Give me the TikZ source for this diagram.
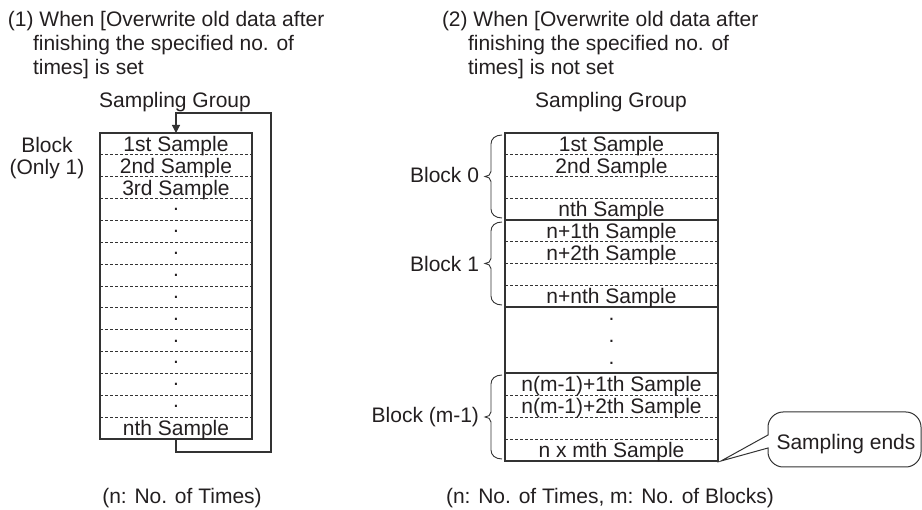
\documentclass[tikz,border=0pt]{standalone}
\usepackage{fontspec}
\setmainfont{Liberation Sans}
\usetikzlibrary{arrows.meta}
\definecolor{ink}{HTML}{231F20}
\definecolor{linec}{HTML}{333333}
\newcommand\blockbrace[2]{%
  \draw[bracestyle] (502,#1) .. controls (495,#1) and (491,{#1+4}) .. (491,{#1+9})
    -- (491,{(#1+#2)/2-5}) .. controls (491,{(#1+#2)/2-2}) and (488,{(#1+#2)/2}) .. (485,{(#1+#2)/2})
    .. controls (488,{(#1+#2)/2}) and (491,{(#1+#2)/2+2}) .. (491,{(#1+#2)/2+5})
    -- (491,{#2-9}) .. controls (491,{#2-4}) and (495,#2) .. (502,#2);}
\begin{document}
\begin{tikzpicture}[x=1pt,y=-1pt,
  every node/.style={inner sep=0pt, outer sep=0pt, text=ink, font=\fontsize{21}{24}\selectfont},
  boxstyle/.style={draw=linec, line width=1.2pt},
  dashln/.style={draw=linec, line width=0.8pt, dash pattern=on 3pt off 2pt},
  solidln/.style={draw=linec, line width=1.3pt},
  bracestyle/.style={draw=linec, line width=0.9pt},
  txt/.style={anchor=base},
  ttl/.style={anchor=base west}]
\useasboundingbox (0,0) rectangle (922,510);

% ---------- titles ----------
\node[ttl] (t1a) at (8,27) {(1) When [Overwrite old data after};
\node[ttl] (t1b) at (33,51) {finishing the specified no. of};
\node[ttl] (t1c) at (33,75) {times] is set};
\node[ttl] (t2a) at (442,27) {(2) When [Overwrite old data after};
\node[ttl] (t2b) at (468,51) {finishing the specified no. of};
\node[ttl] (t2c) at (468,75) {times] is not set};

\node[txt] (sg1) at (175,108) {Sampling Group};
\node[txt] (sg2) at (611,108) {Sampling Group};

% ---------- left box ----------
\node[boxstyle, minimum width=152pt, minimum height=306pt] (lbox) at (176,286) {};
\foreach \k in {1,...,13}
  \draw[dashln] (100,{133+\k*21.857}) -- (252,{133+\k*21.857});
\node[txt] (l1) at (176,152) {1st Sample};
\node[txt] (l2) at (176,173.7) {2nd Sample};
\node[txt] (l3) at (176,195.6) {3rd Sample};
\foreach \k in {3,...,12}
  \node[txt] (ld\k) at (176,{133+(\k+0.5)*21.857+1.5}) {.};
\node[txt] (ln) at (176,436) {nth Sample};

\node[txt] (blkA) at (47,153) {Block};
\node[txt] (blkB) at (47,175) {(Only 1)};

\coordinate (lpA) at (271,452);
\coordinate (lpB) at (271,113);
\draw[linec, line width=1.2pt, -{Triangle[width=8pt,length=8pt]}]
  (lbox.south) |- (lpA) -- (lpB) -| (lbox.north);

\node[txt] (nl) at (182,504) {(n: No. of Times)};

% ---------- right box ----------
\node[boxstyle, minimum width=213pt, minimum height=328pt] (rbox) at (611.5,297) {};
\foreach \y in {154.75,176.5,198.25,241.75,263.5,285.25,395,417,439}
  \draw[dashln] (505,\y) -- (718,\y);
\foreach \y in {220,307,373}
  \draw[solidln] (505,\y) -- (718,\y);

\node[txt] (r1) at (611.5,152) {1st Sample};
\node[txt] (r2) at (611.5,173.5) {2nd Sample};
\node[txt] (r3) at (611.5,217) {nth Sample};
\node[txt] (r4) at (611.5,239) {n+1th Sample};
\node[txt] (r5) at (611.5,260.5) {n+2th Sample};
\node[txt] (r6) at (611.5,304) {n+nth Sample};
\node[txt] (rd1) at (611.5,320.5) {.};
\node[txt] (rd2) at (611.5,342.5) {.};
\node[txt] (rd3) at (611.5,364.5) {.};
\node[txt] (r7) at (611.5,392) {n(m-1)+1th Sample};
\node[txt] (r8) at (611.5,414) {n(m-1)+2th Sample};
\node[txt] (r9) at (611.5,458) {n x mth Sample};

\blockbrace{135}{218}
\blockbrace{222}{305}
\blockbrace{375}{459}
\node[anchor=base east] (b0) at (479,183) {Block 0};
\node[anchor=base east] (b1) at (479,272) {Block 1};
\node[anchor=base east] (bm) at (479,423) {Block (m-1)};

\node[txt] (nr) at (610,504) {(n: No. of Times, m: No. of Blocks)};

% ---------- callout ----------
\node[txt] (ends) at (846,450) {Sampling ends};
\draw[linec, line width=1pt]
  (768,435) -- (768,427) .. controls (768,419) and (775,412) .. (783,412)
  -- (906,412) .. controls (914,412) and (921,419) .. (921,427)
  -- (921,452) .. controls (921,460) and (914,467) .. (906,467)
  -- (783,467) .. controls (775,467) and (768,460) .. (768,452)
  -- (768,448) -- ([xshift=3pt]rbox.south east) -- cycle;
\end{tikzpicture}
\end{document}
